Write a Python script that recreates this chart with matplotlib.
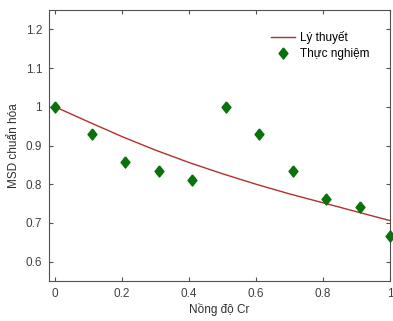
import matplotlib
matplotlib.use("Agg")
import matplotlib.pyplot as plt

plt.rcParams['font.family'] = ['Liberation Sans', 'DejaVu Sans']

# Theory curve
theory_x = [0.0, 0.1, 0.2, 0.3, 0.4, 0.5, 0.6, 0.7, 0.8, 0.9, 1.0]
theory_y = [1.0, 0.961, 0.923, 0.888, 0.856, 0.827, 0.800, 0.775, 0.752, 0.729, 0.706]

# Experimental points
exp_x = [0.0, 0.11, 0.21, 0.31, 0.41, 0.51, 0.61, 0.71, 0.81, 0.91, 1.0]
exp_y = [1.0, 0.930, 0.858, 0.835, 0.810, 1.0, 0.930, 0.835, 0.763, 0.740, 0.667]

xticks = [0, 0.2, 0.4, 0.6, 0.8, 1]
xticklabels = ['0', '0.2', '0.4', '0.6', '0.8', '1']
yticks = [0.6, 0.7, 0.8, 0.9, 1.0, 1.1, 1.2]
yticklabels = ['0.6', '0.7', '0.8', '0.9', '1', '1.1', '1.2']

fig = plt.figure(figsize=(3.93, 3.21), dpi=100)
ax = fig.add_axes([49/393, 1-281/321, (390-49)/393, (281-10)/321])

diamond = [(0, 1), (0.8, 0), (0, -1), (-0.8, 0), (0, 1)]
ax.plot(theory_x, theory_y, color='#b03030', lw=1.0, label='Lý thuyết')
ax.plot(exp_x, exp_y, linestyle='none', marker=diamond, color='#0a720a',
        markersize=8, label='Thực nghiệm', clip_on=False, zorder=3)

ax.set_xlim(-0.018, 1.0)
ax.set_ylim(0.55, 1.25)
ax.set_xticks(xticks)
ax.set_xticklabels(xticklabels)
ax.set_yticks(yticks)
ax.set_yticklabels(yticklabels)
ax.tick_params(direction='in', top=True, right=True, length=3, width=0.8,
               colors='#505050', labelsize=8.5, labelcolor='#404040', pad=5)
for s in ax.spines.values():
    s.set_color('#505050')
    s.set_linewidth(0.8)

ax.set_xlabel('Nồng độ Cr', fontsize=8.5, color='#303030', labelpad=2)
ax.set_ylabel('MSD chuẩn hóa', fontsize=8.5, color='#303030', labelpad=4)

ax.legend(loc='upper right', frameon=False, fontsize=8.5, handlelength=2.0,
          bbox_to_anchor=(0.97, 0.96), labelspacing=0.3, handletextpad=0.4)

fig.savefig('out.png', dpi=100)
